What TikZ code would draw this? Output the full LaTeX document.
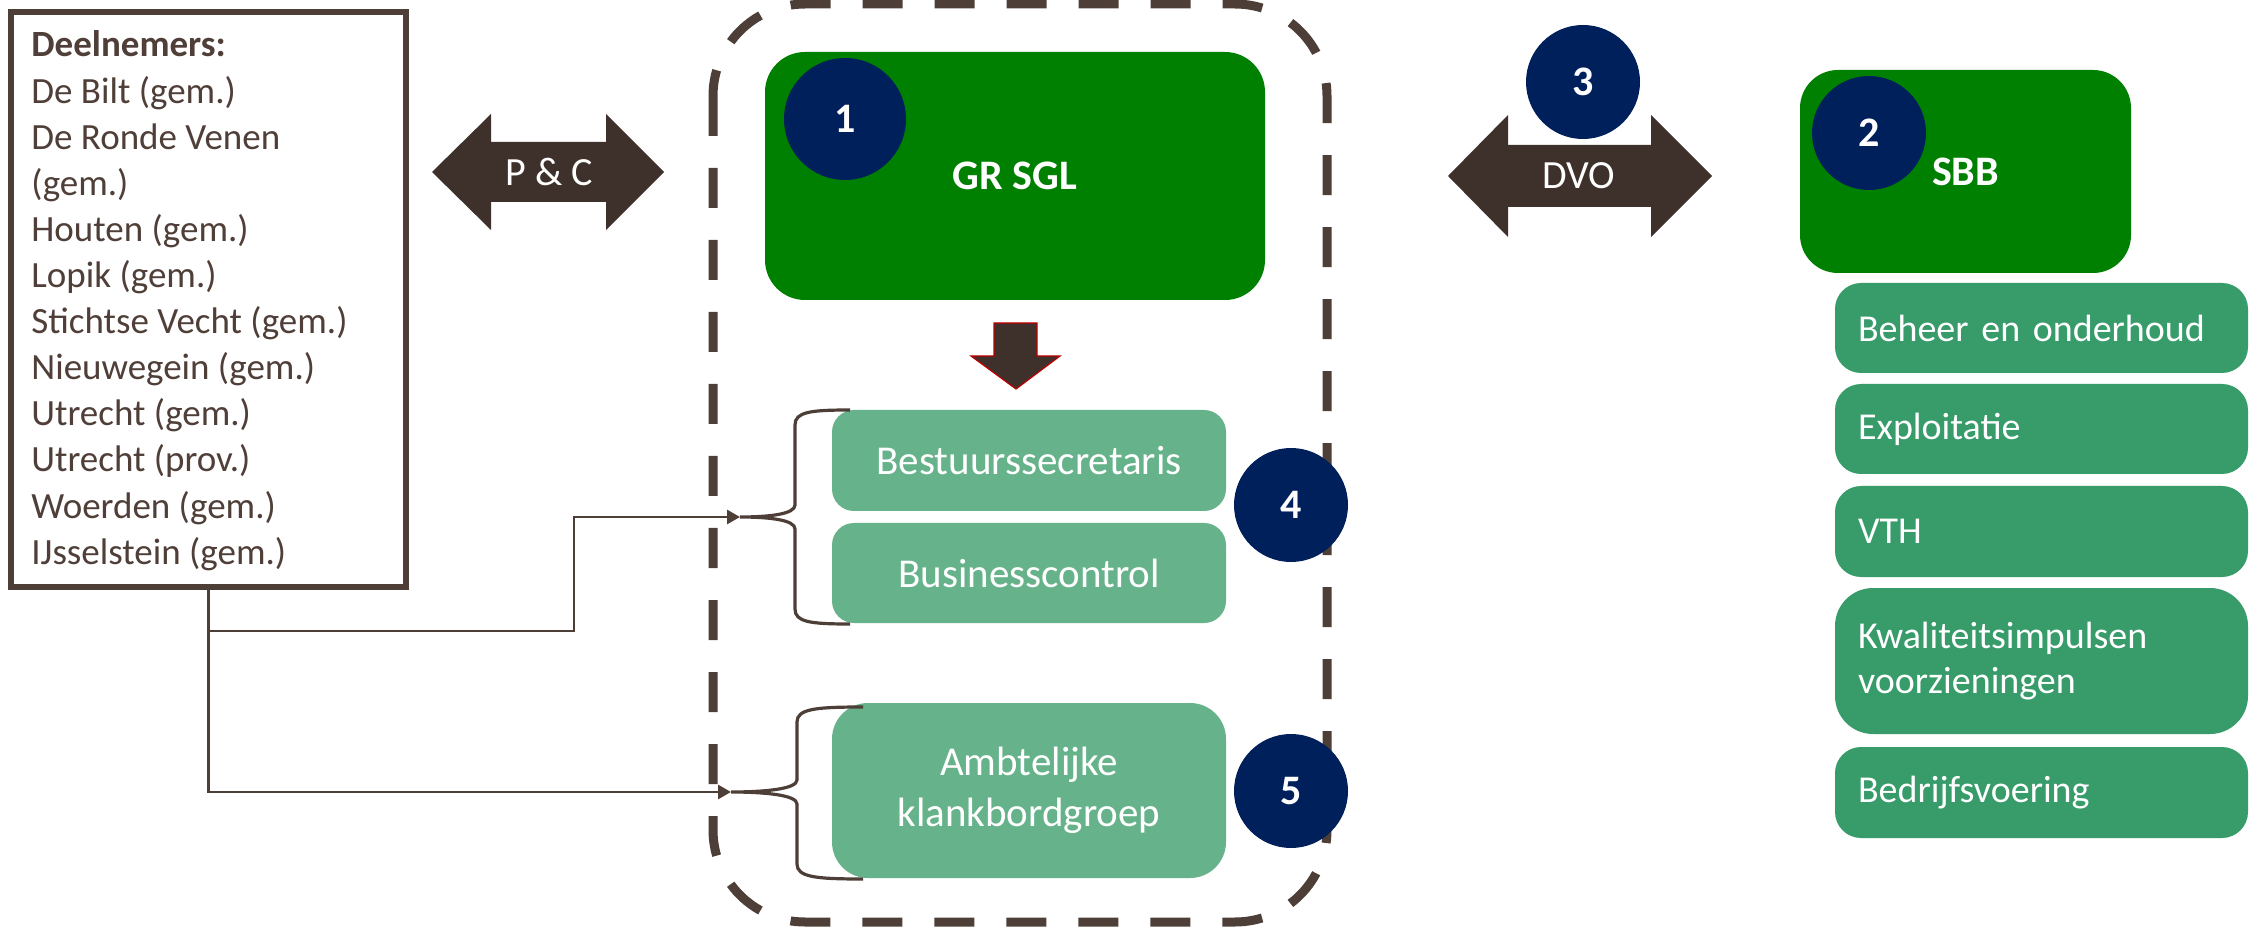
\documentclass[tikz,border=0pt]{standalone}
\usepackage{fontspec}
\setmainfont{Carlito}
\usetikzlibrary{arrows.meta}
\definecolor{brownT}{HTML}{4F3F38}
\definecolor{brownL}{HTML}{4D3F38}
\definecolor{brownA}{HTML}{3E312C}
\definecolor{navy}{HTML}{00205B}
\definecolor{dgreen}{HTML}{008000}
\definecolor{lgreen}{HTML}{66B28A}
\definecolor{rgreen}{HTML}{379B6A}
\definecolor{dred}{HTML}{C00000}
\begin{document}
\begin{tikzpicture}[x=0.5pt,y=-0.5pt,
  txt/.style={font=\fontsize{18.5}{23}\selectfont, text=brownT, inner sep=0, anchor=base west},
  numc/.style={circle, fill=navy, text=white, font=\bfseries\fontsize{21}{25}\selectfont, inner sep=0, minimum size=57pt},
  mainbox/.style={rounded corners=20pt, fill=dgreen, text=white, font=\bfseries\fontsize{21}{25}\selectfont, inner sep=0},
  lgbox/.style={rounded corners=11pt, fill=lgreen, text=white, font=\fontsize{20.5}{25.5}\selectfont, align=center, inner sep=0, minimum width=197pt},
  rgbox/.style={rounded corners=13pt, fill=rgreen, text=white, font=\fontsize{19}{22.5}\selectfont, align=left, text width=183.5pt, inner xsep=11.5pt, inner ysep=0},
  arrlabel/.style={text=white, font=\fontsize{20}{24}\selectfont, inner sep=0},
  conn/.style={draw=brownL, line width=1.4pt, -{Triangle[length=6.5pt,width=7pt]}},
  bracestyle/.style={draw=brownL, line width=1.6pt},
  dashbox/.style={draw=brownL, line width=4.5pt, dash pattern=on 20pt off 16pt, rounded corners=46pt},
]
\useasboundingbox (0,0) rectangle (2255,935);
\fill[white] (0,0) rectangle (2255,935);

% dashed frame
\draw[dashbox] (713,4) rectangle (1327,922);

% Deelnemers box
\node[draw=brownL, line width=3pt, minimum width=197.5pt, minimum height=287.5pt, inner sep=0, outer sep=0] (deel) at (208.75,299.5) {};
\node[txt, font=\bfseries\fontsize{18.5}{23}\selectfont] (d0) at (31,57) {Deelnemers:};
\foreach \t [count=\i] in {{De Bilt (gem.)},{De Ronde Venen},{(gem.)},{Houten (gem.)},{Lopik (gem.)},{Stichtse Vecht (gem.)},{Nieuwegein (gem.)},{Utrecht (gem.)},{Utrecht (prov.)},{Woerden (gem.)},{IJsselstein (gem.)}}
  \node[txt] (d\i) at (31,57+46.1*\i) {\t};

% P & C arrow
\fill[brownA] (432,172) -- (491,114) -- (491,142) -- (606,142) -- (606,114) -- (664,172) -- (606,230) -- (606,202) -- (491,202) -- (491,230) -- cycle;
\node[arrlabel] (pc) at (549,172) {P \& C};

% DVO arrow
\fill[brownA] (1448,176) -- (1508,115) -- (1508,145) -- (1651,145) -- (1651,115) -- (1712,176) -- (1651,237) -- (1651,207) -- (1508,207) -- (1508,237) -- cycle;
\node[arrlabel] (dvo) at (1579,176) {DVO};
\node[numc] (n3) at (1583,82) {3};

% GR SGL
\node[mainbox, minimum width=250pt, minimum height=124pt] (gr) at (1015,176) {GR SGL};
\node[numc, minimum size=61pt] (n1) at (845,119) {1};

% down arrow
\filldraw[fill=brownA, draw=dred, line width=0.6pt] (994,323) -- (1037,323) -- (1037,356) -- (1060,356) -- (1016,389) -- (971,356) -- (994,356) -- cycle;

% light boxes
\node[lgbox, minimum height=50.5pt] (bs) at (1029,460.5) {Bestuurssecretaris};
\node[lgbox, minimum height=50pt] (bc) at (1029,573) {Businesscontrol};
\node[lgbox, rounded corners=18pt, minimum height=87.5pt] (ak) at (1029,790.5) {Ambtelijke\\klankbordgroep};
\node[numc] (n4) at (1291,505) {4};
\node[numc] (n5) at (1291,791) {5};

% braces
\coordinate (b1tip) at (740,517);
\coordinate (b2tip) at (731,792);
\draw[bracestyle] (850,410) .. controls (810,410) and (795,412) .. (795,425) -- (795,505) .. controls (795,514) and (770,517) .. (b1tip) .. controls (770,517) and (795,520) .. (795,529) -- (795,609) .. controls (795,622) and (810,624) .. (850,624);
\draw[bracestyle] (863,707) .. controls (815,707) and (797,709) .. (797,722) -- (797,780) .. controls (797,789) and (765,792) .. (b2tip) .. controls (765,792) and (797,795) .. (797,804) -- (797,864) .. controls (797,877) and (815,879) .. (863,879);

% connectors
\coordinate (j1) at (209,631);
\draw[conn] (deel.south) |- (b2tip);
\draw[conn] (j1) -| (574,517) -- (b1tip);

% SBB
\node[mainbox, rounded corners=19pt, minimum width=165.5pt, minimum height=101.5pt] (sbb) at (1965.5,171.5) {SBB};
\node[numc] (n2) at (1869,133) {2};

% right boxes
\node[rgbox, minimum height=45pt] (r1) at (2041.5,328) {Beheer en onderhoud};
\node[rgbox, minimum height=45pt] (r2) at (2041.5,429) {Exploitatie};
\node[rgbox, minimum height=45.5pt] (r3) at (2041.5,531.5) {VTH};
\node[rgbox, rounded corners=19pt, minimum height=73pt] (r4) at (2041.5,661) {Kwaliteitsimpulsen\\voorzieningen};
\node[rgbox, minimum height=45.5pt] (r5) at (2041.5,792.5) {Bedrijfsvoering};
\end{tikzpicture}
\end{document}
